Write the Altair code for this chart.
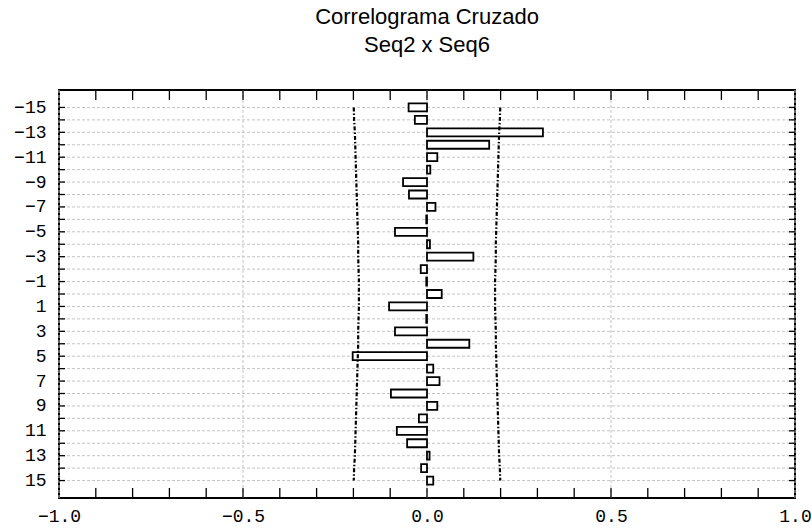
import altair as alt
import pandas as pd

# Cross-correlation of Seq2 x Seq6 by lag
lags = list(range(-15, 16))
corr = [-0.050, -0.033, 0.315, 0.169, 0.028, 0.009, -0.065, -0.049, 0.023, -0.002,
        -0.087, 0.008, 0.126, -0.017, -0.002,
        0.040,
        -0.103, -0.002, -0.087, 0.115, -0.202, 0.017, 0.034, -0.098, 0.028, -0.022,
        -0.082, -0.054, 0.007, -0.016, 0.017]
# confidence limit (absolute) for each lag
limit = [0.199, 0.198, 0.196, 0.195, 0.194, 0.193, 0.192, 0.191, 0.190, 0.189,
         0.188, 0.187, 0.187, 0.186, 0.185,
         0.185,
         0.185, 0.186, 0.187, 0.187, 0.188, 0.189, 0.190, 0.191, 0.192, 0.193,
         0.194, 0.195, 0.196, 0.198, 0.199]

x_labels = [-1.0, -0.5, 0.0, 0.5, 1.0]
x_minor = [-0.9, -0.8, -0.7, -0.6, -0.5, -0.4, -0.3, -0.2, -0.1, 0.0,
           0.1, 0.2, 0.3, 0.4, 0.5, 0.6, 0.7, 0.8, 0.9]
y_labels = [l for l in lags if l % 2 != 0]

W, H = 736, 408
MONO = "Liberation Mono"

df = pd.DataFrame({"lag": lags, "corr": corr, "upper": limit,
                   "lower": [-v for v in limit]})
xt = pd.DataFrame({"v": x_minor})
yt = pd.DataFrame({"lag": lags})

x_scale = alt.Scale(domain=[-1, 1], nice=False, zero=False)
y_scale = alt.Scale(domain=[-16, 16], reverse=True, nice=False, zero=False)

x_axis = alt.Axis(values=x_labels, format=".1f", title=None, tickSize=0,
                  labelFont=MONO, labelFontSize=18, labelColor="black",
                  labelPadding=9, domain=False, grid=False, labelFlush=False,
                  labelOverlap=False)
y_axis = alt.Axis(values=y_labels, title=None, tickSize=0, labelFont=MONO,
                  labelFontSize=18, labelColor="black", labelPadding=13,
                  domain=False, grid=False, labelBaseline="middle",
                  labelOverlap=False)


def X(field=None, **kw):
    return alt.X(field, scale=x_scale, axis=x_axis, **kw) if field else \
        alt.X(scale=x_scale, axis=x_axis, **kw)


def Y(field=None, **kw):
    return alt.Y(field, scale=y_scale, axis=y_axis, **kw) if field else \
        alt.Y(scale=y_scale, axis=y_axis, **kw)


GRID = dict(color="#c4c4c4", strokeWidth=1, strokeDash=[3, 2])

# horizontal grid at every lag
grid_y = alt.Chart(yt).mark_rule(**GRID).encode(y=Y("lag:Q"))
# vertical grid at the labeled x positions
grid_x = alt.Chart(pd.DataFrame({"v": x_labels})).mark_rule(**GRID).encode(
    x=X("v:Q"))

bars = alt.Chart(df).mark_bar(height=8, fill="white", stroke="black",
                              strokeWidth=1.8, orient="horizontal").encode(
    x=X("corr:Q"), x2=alt.datum(0), y=Y("lag:Q"))

# dash-dot confidence limits
dash = [4, 2, 1.5, 2]
upper = alt.Chart(df).mark_line(color="black", strokeWidth=2.2,
                                strokeDash=dash).encode(
    x=X("upper:Q"), y=Y("lag:Q"), order="lag:Q")
lower = alt.Chart(df).mark_line(color="black", strokeWidth=2.2,
                                strokeDash=dash).encode(
    x=X("lower:Q"), y=Y("lag:Q"), order="lag:Q")

# inward tick marks: ticks centred on the frame edge, outer half clipped
TICK = dict(color="black", thickness=1.3, opacity=1, clip=True)
tick_bottom = alt.Chart(xt).mark_tick(size=10, orient="vertical",
                                      **TICK).encode(
    x=X("v:Q"), y=Y(datum=16))
tick_top = alt.Chart(xt).mark_tick(size=10, orient="vertical",
                                   **TICK).encode(
    x=X("v:Q"), y=Y(datum=-16))
tick_left = alt.Chart(yt).mark_tick(size=12, orient="horizontal",
                                    **TICK).encode(
    y=Y("lag:Q"), x=X(datum=-1))
tick_right = alt.Chart(yt).mark_tick(size=12, orient="horizontal",
                                     **TICK).encode(
    y=Y("lag:Q"), x=X(datum=1))

chart = alt.layer(grid_y, grid_x, bars, upper, lower, tick_bottom, tick_top,
                  tick_left, tick_right).properties(
    width=W, height=H, background="white",
    title=alt.TitleParams(["Correlograma Cruzado", "Seq2 x Seq6"],
                          font="Liberation Sans", fontSize=22,
                          fontWeight="normal", color="black", lineHeight=28,
                          anchor="middle", offset=33),
    autosize=alt.AutoSizeParams(type="none"),
    padding={"left": 59, "top": 90, "right": 17, "bottom": 31},
).configure_view(stroke="black", strokeWidth=2)

chart.save("out.html", embed_options={"renderer": "svg", "actions": False})
